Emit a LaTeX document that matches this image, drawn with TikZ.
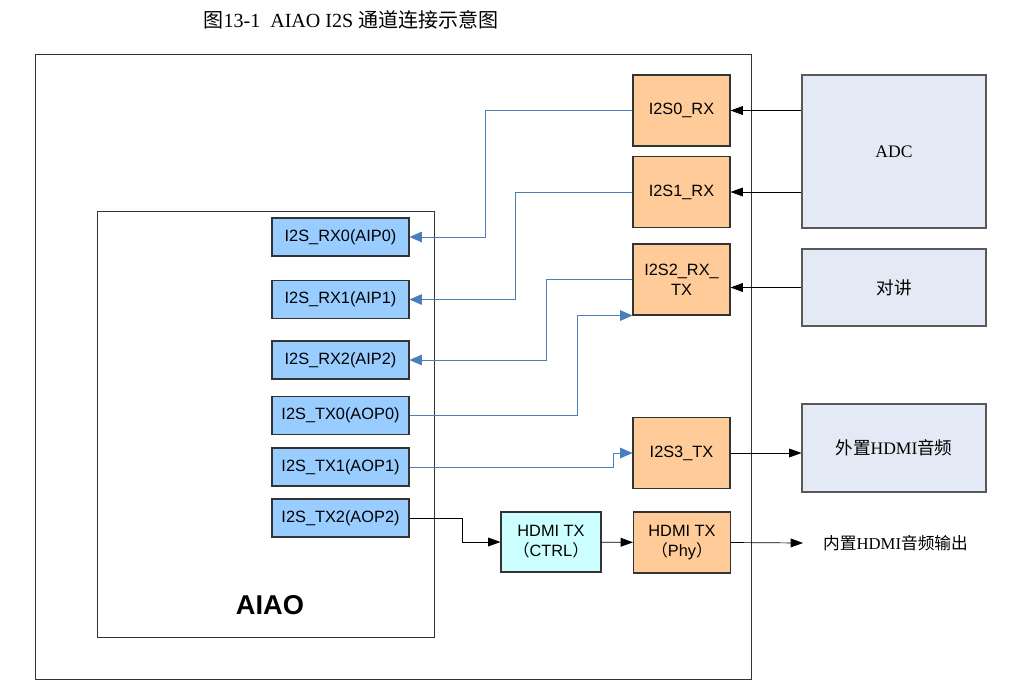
\documentclass[tikz,border=0pt]{standalone}
\usepackage{fontspec}
\setmainfont{Liberation Serif}
\setsansfont{Liberation Sans}
\newfontfamily\cjk{Noto Sans CJK SC}
\usepackage{xcolor}
\usetikzlibrary{arrows.meta}
\definecolor{portblue}{HTML}{99CCFF}
\definecolor{i2sorange}{HTML}{FFCC99}
\definecolor{ctrlcyan}{HTML}{CCFFFF}
\definecolor{extgray}{HTML}{E3EAF5}
\definecolor{linkblue}{HTML}{4A7EBB}

\begin{document}
\begin{tikzpicture}[x=0.02cm, y=-0.02cm,
    box/.style={draw=black!80, semithick, inner sep=1pt, align=center,
        font=\sffamily\fontsize{9.3}{11.5}\selectfont},
    port/.style={box, fill=portblue, minimum width=2.74cm, minimum height=0.76cm},
    i2s/.style={box, fill=i2sorange, minimum width=1.94cm, minimum height=1.42cm},
    ext/.style={box, draw=black!65, fill=extgray, minimum width=3.68cm,
        font=\fontsize{10}{12}\selectfont},
    blueline/.style={draw=linkblue, -{Triangle[length=7pt,width=6pt]}},
    blackline/.style={draw=black, -{Triangle[length=7pt,width=5pt]}}]

    \useasboundingbox (0,0) rectangle (1019,698);

    \node (title) at (351,20) {\fontsize{11.4}{13}\selectfont{\cjk 图}13-1\ \ AIAO I2S {\cjk 通道连接示意图}};

    % frames
    \draw[black!80] (35,54) rectangle (751,679);
    \draw[black!80] (97,211) rectangle (434,637);
    \node (aiao) at (270,605) {\sffamily\bfseries\fontsize{15.5}{18}\selectfont AIAO};

    % AIAO ports
    \node[port] (rx0) at (340.5,237)   {I2S\_RX0(AIP0)};
    \node[port] (rx1) at (340.5,299.5) {I2S\_RX1(AIP1)};
    \node[port] (rx2) at (340.5,360)   {I2S\_RX2(AIP2)};
    \node[port] (tx0) at (340.5,415.5) {I2S\_TX0(AOP0)};
    \node[port] (tx1) at (340.5,467)   {I2S\_TX1(AOP1)};
    \node[port] (tx2) at (340.5,518)   {I2S\_TX2(AOP2)};

    % I2S interfaces
    \node[i2s] (s0) at (681.5,110.5) {I2S0\_RX};
    \node[i2s] (s1) at (681.5,192)   {I2S1\_RX};
    \node[i2s] (s2) at (681.5,279.5) {I2S2\_RX\_\\TX};
    \node[i2s] (s3) at (681.5,453)   {I2S3\_TX};
    \node[i2s, minimum height=1.22cm] (phy) at (682,542.5) {HDMI TX\\{\cjk （}Phy{\cjk ）}};
    \node[box, fill=ctrlcyan, minimum width=2cm, minimum height=1.2cm] (ctrl) at (551,542)
        {HDMI TX\\{\cjk （}CTRL{\cjk ）}};

    % outside
    \node[ext, minimum height=3.06cm] (adc) at (894,151.5) {ADC};
    \node[ext, minimum height=1.54cm] (talk) at (894,287.5) {\cjk 对讲};
    \node[ext, minimum height=1.76cm] (hdmiext) at (894,448) {{\cjk 外置}HDMI{\cjk 音频}};
    \node[anchor=west, font=\fontsize{9.5}{12}\selectfont] (hdmiout) at (817,543)
        {{\cjk 内置}HDMI{\cjk 音频输出}};
    \coordinate (outend) at (803,543);

    % links
    \draw[blueline] (s0.west) -- ++(-147,0) |- (rx0.east);
    \draw[blueline] (s1.west) -- ++(-117,0) |- (rx1.east);
    \draw[blueline] (s2.west) -- ++(-86,0) |- (rx2.east);
    \draw[blueline] (tx0.east) -- ++(168,0) |- (s2.south west);
    \draw[blueline] (tx1.east) -- ++(204,0) |- (s3.west);
    \draw[blackline] (tx2.east) -- ++(53,0) |- (ctrl.west);
    \draw[blackline] (ctrl) -- (phy);
    \draw[blackline] (phy.east) -- (outend);
    \draw[blackline] (adc.west |- s0) -- (s0.east);
    \draw[blackline] (adc.west |- s1) -- (s1.east);
    \draw[blackline] (talk.west) -- (talk.west -| s2.east);
    \draw[blackline] (s3.east) -- (hdmiext.west |- s3);

\end{tikzpicture}
\end{document}
